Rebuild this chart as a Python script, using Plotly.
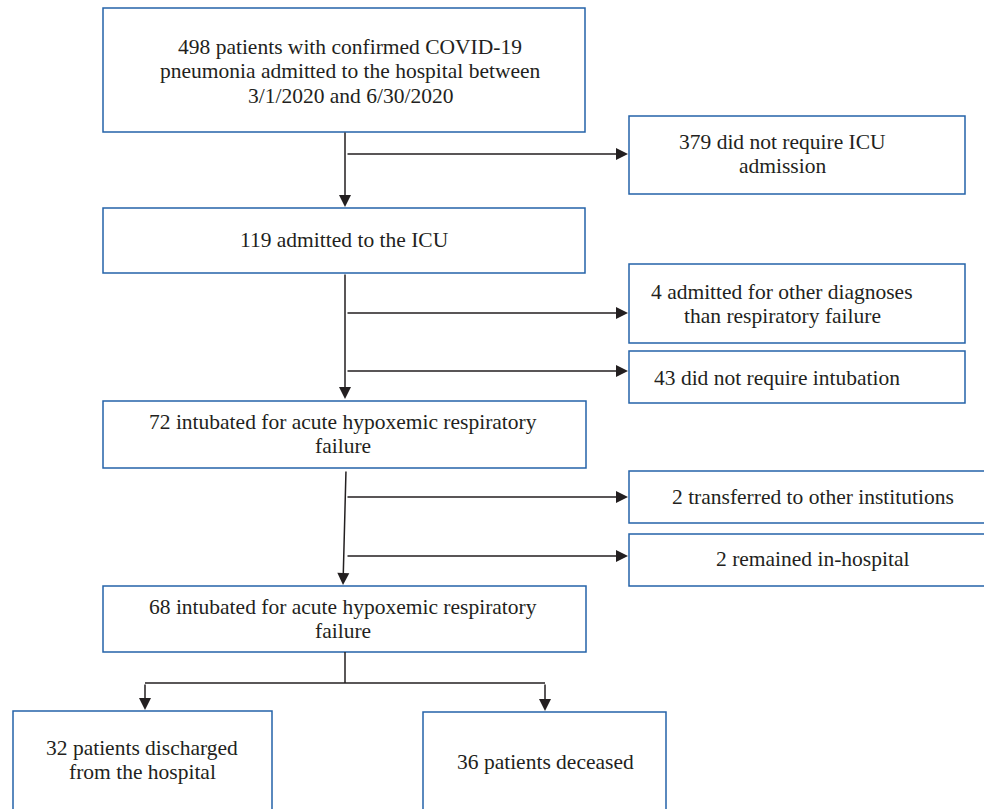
import plotly.graph_objects as go

# ---- content (flow counts and labels) ----
labels = [
    "498 patients with confirmed COVID-19<br>pneumonia admitted to the hospital between<br>3/1/2020 and 6/30/2020",
    "379 did not require ICU<br>admission",
    "119 admitted to the ICU",
    "4 admitted for other diagnoses<br>than respiratory failure",
    "43 did not require intubation",
    "72 intubated for acute hypoxemic respiratory<br>failure",
    "2 transferred to other institutions",
    "2 remained in-hospital",
    "68 intubated for acute hypoxemic respiratory<br>failure",
    "32 patients discharged<br>from the hospital",
    "36 patients deceased",
]

# ---- layout geometry (pixels, top-left origin) ----
box_x0 = [103, 629, 103, 629, 629, 103, 629, 629, 103, 13, 423]
box_x1 = [585, 965, 585, 965, 965, 586, 990, 990, 586, 272, 666]
box_y0 = [8, 116, 208, 264, 351, 401, 471, 534, 586, 711, 712]
box_y1 = [132, 194, 273, 343, 403, 468, 523, 586, 652, 830, 830]
text_x = [350, 782, 344, 782, 777, 343, 813, 812, 343, 142, 545]
text_y = [71, 154, 240, 304, 378, 434, 497, 559, 619, 760, 762]
LINE_STEP = 24.5

# arrows: (x_start, y_start, x_end, y_end)
arrow_x0 = [345, 346, 345, 346, 346, 346, 346, 346, 145, 545]
arrow_y0 = [131, 154, 273, 313, 371, 470, 497, 556, 683, 683]
arrow_x1 = [345, 628, 345, 628, 628, 343, 628, 628, 145, 545]
arrow_y1 = [207, 154, 399, 313, 371, 585, 497, 556, 710, 711]

# plain connector lines
line_x0 = [345, 145]
line_y0 = [652, 683]
line_x1 = [345, 545]
line_y1 = [683, 683]

BOX_COLOR = "#2563a9"
INK = "#231f20"
FONT = "Liberation Serif"
FSIZE = 21.5

fig = go.Figure()
fig.add_trace(go.Scatter(x=[0, 984], y=[0, 809], mode="markers",
                         marker=dict(opacity=0), hoverinfo="skip", showlegend=False))

shapes = []
for x0, x1, y0, y1 in zip(box_x0, box_x1, box_y0, box_y1):
    shapes.append(dict(type="rect", xref="x", yref="y", x0=x0, x1=x1, y0=y0, y1=y1,
                       line=dict(color=BOX_COLOR, width=1.5), fillcolor="rgba(0,0,0,0)"))
for x0, y0, x1, y1 in zip(line_x0, line_y0, line_x1, line_y1):
    shapes.append(dict(type="line", xref="x", yref="y", x0=x0, y0=y0, x1=x1, y1=y1,
                       line=dict(color=INK, width=1.5)))

annotations = []
for t, x, y in zip(labels, text_x, text_y):
    lines = t.split("<br>")
    n = len(lines)
    for i, ln in enumerate(lines):
        yy = y + (i - (n - 1) / 2) * LINE_STEP
        annotations.append(dict(x=x, y=yy, xref="x", yref="y", text=ln, showarrow=False,
                                align="center", xanchor="center", yanchor="middle",
                                font=dict(family=FONT, size=FSIZE, color=INK)))
for x0, y0, x1, y1 in zip(arrow_x0, arrow_y0, arrow_x1, arrow_y1):
    annotations.append(dict(x=x1, y=y1, ax=x0, ay=y0, xref="x", yref="y",
                            axref="x", ayref="y", text="", showarrow=True,
                            arrowhead=2, arrowsize=1.6, arrowwidth=1.5,
                            arrowcolor=INK, standoff=0))

fig.update_layout(
    width=984, height=809,
    margin=dict(l=0, r=0, t=0, b=0),
    paper_bgcolor="white", plot_bgcolor="white",
    xaxis=dict(range=[0, 984], visible=False, fixedrange=True),
    yaxis=dict(range=[809, 0], visible=False, fixedrange=True),
    shapes=shapes, annotations=annotations, showlegend=False,
)

fig.write_html("out.html", config={"displayModeBar": False},
               post_script="document.body.style.margin='0';document.body.style.overflow='hidden';")
